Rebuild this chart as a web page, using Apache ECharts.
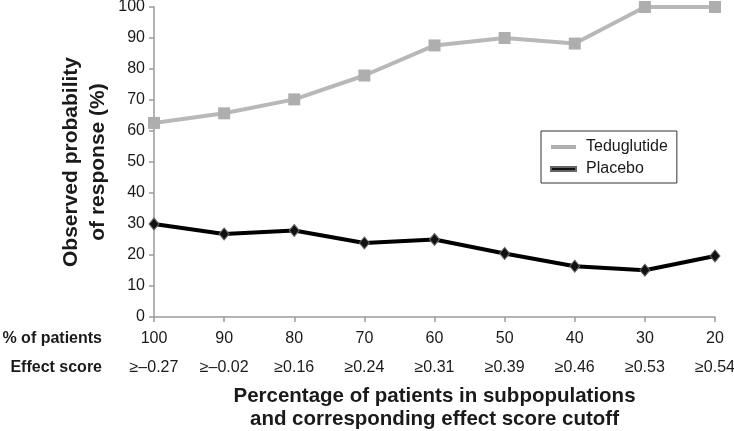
<!DOCTYPE html>
<html>
<head>
<meta charset="utf-8">
<script src="https://cdn.jsdelivr.net/npm/echarts@6/dist/echarts.min.js"></script>
<style>html,body{margin:0;padding:0;background:#fff}#c{width:734px;height:431px}</style>
</head>
<body>
<div id="c"></div>
<script>
const pctPatients = ['100', '90', '80', '70', '60', '50', '40', '30', '20'];
const effectScores = ['≥–0.27', '≥–0.02', '≥0.16', '≥0.24', '≥0.31', '≥0.39', '≥0.46', '≥0.53', '≥0.54'];
const teduglutide = [62.6, 65.7, 70.2, 77.9, 87.6, 90.0, 88.2, 100, 100];
const placebo = [30.0, 26.8, 27.9, 23.9, 25.0, 20.5, 16.4, 15.1, 19.7];
const yTicks = { min: 0, max: 100, interval: 10 };

const FONT = '"Liberation Sans", Arial, sans-serif';
const TXT = '#1a1a1a';
const AX = '#9a9a9a';

const chart = echarts.init(document.getElementById('c'), null, { renderer: 'canvas' });
chart.setOption({
  backgroundColor: '#fff',
  animation: false,
  textStyle: { fontFamily: FONT },
  grid: { left: 154, right: 19, top: 7, bottom: 114, containLabel: false, outerBoundsMode: 'none' },
  legend: {
    orient: 'vertical',
    left: 541, top: 131,
    padding: [8, 9, 6, 9],
    itemGap: 6,
    itemWidth: 25, itemHeight: 4,
    icon: 'rect',
    borderColor: '#333', borderWidth: 1,
    backgroundColor: '#fff',
    textStyle: { fontFamily: FONT, fontSize: 16, color: TXT, lineHeight: 16, padding: [0, 0, 0, 5] },
    data: ['Teduglutide', 'Placebo']
  },
  xAxis: [
    {
      type: 'category',
      data: pctPatients,
      boundaryGap: false,
      axisLine: { show: true, lineStyle: { color: AX, width: 1.5 } },
      axisTick: { show: true, length: 5, lineStyle: { color: AX, width: 1.5 } },
      axisLabel: { margin: 14, fontSize: 16, lineHeight: 16, color: TXT, fontFamily: FONT, interval: 0 },
      splitLine: { show: false },
      name: 'Percentage of patients in subpopulations\nand corresponding effect score cutoff',
      nameLocation: 'middle',
      nameGap: 68,
      nameMoveOverlap: false,
      nameTextStyle: { fontSize: 20.5, fontWeight: 'bold', color: TXT, lineHeight: 23, fontFamily: FONT }
    },
    {
      type: 'category',
      data: effectScores,
      boundaryGap: false,
      position: 'bottom',
      offset: 29,
      axisLine: { show: false },
      axisTick: { show: false },
      axisLabel: { margin: 14, fontSize: 16, lineHeight: 16, color: TXT, fontFamily: FONT, interval: 0 },
      splitLine: { show: false }
    }
  ],
  yAxis: {
    type: 'value',
    min: yTicks.min, max: yTicks.max, interval: yTicks.interval,
    axisLine: { show: true, lineStyle: { color: AX, width: 1.5 } },
    axisTick: { show: true, length: 5, lineStyle: { color: AX, width: 1.5 } },
    axisLabel: { margin: 9, fontSize: 16, color: TXT, fontFamily: FONT },
    splitLine: { show: false },
    name: 'Observed probability\nof response (%)',
    nameLocation: 'middle',
    nameRotate: 90,
    nameGap: 42,
    nameMoveOverlap: false,
    nameTextStyle: { fontSize: 21, fontWeight: 'bold', color: TXT, lineHeight: 27, fontFamily: FONT }
  },
  graphic: [
    { type: 'text', right: 734 - 102, top: 331, style: { text: '% of patients', font: 'bold 16px ' + FONT, fill: TXT } },
    { type: 'text', right: 734 - 102, top: 360, style: { text: 'Effect score', font: 'bold 16px ' + FONT, fill: TXT } }
  ],
  series: [
    {
      name: 'Teduglutide',
      type: 'line',
      data: teduglutide,
      color: '#b3b3b3',
      lineStyle: { color: '#b8b8b8', width: 4 },
      symbol: 'rect', symbolSize: 12,
      itemStyle: { color: '#aeaeae' },
      z: 3
    },
    {
      name: 'Placebo',
      type: 'line',
      data: placebo,
      color: '#000',
      lineStyle: { color: '#000', width: 4 },
      symbol: 'diamond', symbolSize: [10, 12],
      itemStyle: { color: '#111', borderColor: '#666', borderWidth: 1 },
      z: 4
    }
  ]
});
</script>
</body>
</html>
